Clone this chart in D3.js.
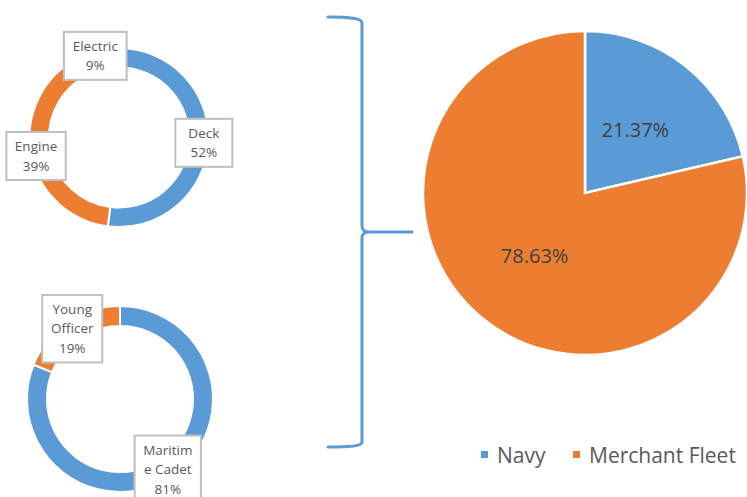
<!DOCTYPE html>
<html>
<head>
<meta charset="utf-8">
<script src="https://cdn.jsdelivr.net/npm/d3@7"></script>
<style>
  body { margin: 0; background: #fff; }
  svg { display: block; font-family: "Open Sans", sans-serif; }
</style>
</head>
<body>
<svg width="747" height="497"></svg>
<script>
// department split (top donut)
const deptNames = ["Deck", "Engine", "Electric"];
const deptValues = [52, 39, 9];
const deptLines = [["Deck", "52%"], ["Engine", "39%"], ["Electric", "9%"]];

// rank split (bottom donut)
const rankNames = ["Maritime Cadet", "Young Officer"];
const rankValues = [81, 19];
const rankLines = [["Maritim", "e Cadet", "81%"], ["Young", "Officer", "19%"]];

// service split (big pie)
const serviceNames = ["Navy", "Merchant Fleet"];
const serviceValues = [21.37, 78.63];

const blue = "#5B9BD5", orange = "#ED7D31", gray = "#A5A5A5";

const svg = d3.select("svg");
const pie = d3.pie().sort(null).value(d => d);

function drawDonut(cx, cy, rOuter, rInner, values, colors, lines) {
    const g = svg.append("g").attr("transform", `translate(${cx},${cy})`);
    const arc = d3.arc().innerRadius(rInner).outerRadius(rOuter);
    const arcs = pie(values);

    g.selectAll("path")
        .data(arcs)
        .enter().append("path")
        .attr("d", arc)
        .attr("fill", (d, i) => colors[i])
        .attr("stroke", "#fff")
        .attr("stroke-width", 2);

    //label boxes sit around the ring
    const labelArc = d3.arc().innerRadius(85).outerRadius(85);
    arcs.forEach((d, i) => {
        const [lx, ly] = labelArc.centroid(d);
        const lg = g.append("g").attr("transform", `translate(${lx},${ly})`);
        const rect = lg.append("rect");
        const lh = 19.5;
        const n = lines[i].length;
        const txt = lg.append("text")
            .attr("text-anchor", "middle")
            .attr("fill", "#595959")
            .attr("font-size", 13.5);
        lines[i].forEach((t, j) => {
            txt.append("tspan")
                .attr("x", 0)
                .attr("y", (j - (n - 1) / 2) * lh)
                .attr("dy", "0.35em")
                .text(t);
        });
        const w = Math.max(txt.node().getBBox().width + 17, 57);
        const h = n * lh + 9;
        rect.attr("x", -w / 2).attr("y", -h / 2)
            .attr("width", w).attr("height", h)
            .attr("fill", "#fff")
            .attr("stroke", "#BFBFBF")
            .attr("stroke-width", 2);
    });
}

drawDonut(119, 137.5, 89.5, 70, deptValues, [blue, orange, gray], deptLines);
drawDonut(120, 399, 93, 73, rankValues, [blue, orange], rankLines);

// bracket
const br = d3.path();
br.moveTo(328, 17);
br.bezierCurveTo(350, 17, 362, 18, 362, 23);
br.lineTo(362, 226);
br.bezierCurveTo(362, 230, 364, 232, 370, 232);
br.lineTo(412, 232);
br.moveTo(370, 232);
br.bezierCurveTo(364, 232, 362, 234, 362, 238);
br.lineTo(362, 442);
br.bezierCurveTo(362, 446, 350, 447, 328, 447);
svg.append("path")
    .attr("d", br.toString())
    .attr("fill", "none")
    .attr("stroke", blue)
    .attr("stroke-width", 3)
    .attr("stroke-linecap", "round");

// big pie
const pieR = 162;
const pg = svg.append("g").attr("transform", "translate(585,193)");
const pieArc = d3.arc().innerRadius(0).outerRadius(pieR);
const serviceArcs = pie(serviceValues);
pg.selectAll("path")
    .data(serviceArcs)
    .enter().append("path")
    .attr("d", pieArc)
    .attr("fill", (d, i) => [blue, orange][i])
    .attr("stroke", "#fff")
    .attr("stroke-width", 2.5);

pg.selectAll("text")
    .data(serviceArcs)
    .enter().append("text")
    .attr("transform", d => `translate(${pieArc.centroid(d)})`)
    .attr("text-anchor", "middle")
    .attr("dy", "0.35em")
    .attr("fill", "#404040")
    .attr("font-size", 20)
    .text(d => d.value.toFixed(2) + "%");

// legend
const legendX = [481, 573];
const lg = svg.append("g");
serviceNames.forEach((name, i) => {
    lg.append("rect")
        .attr("x", legendX[i]).attr("y", 451)
        .attr("width", 7).attr("height", 7)
        .attr("fill", [blue, orange][i]);
    lg.append("text")
        .attr("x", legendX[i] + 16)
        .attr("y", 463)
        .attr("fill", "#595959")
        .attr("font-size", 21)
        .text(name);
});
</script>
</body>
</html>
